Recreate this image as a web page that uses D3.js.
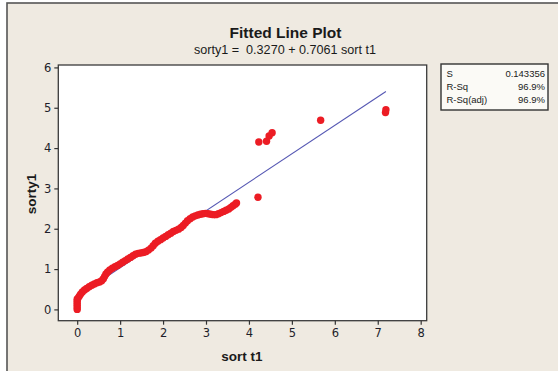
<!DOCTYPE html>
<html>
<head>
<meta charset="utf-8">
<script src="https://cdn.jsdelivr.net/npm/d3@7"></script>
<style>
  html, body { margin: 0; padding: 0; background: #ffffff; }
  svg { display: block; }
  text { white-space: pre; }
</style>
</head>
<body>
<svg id="chart" width="558" height="371"></svg>
<script>
// ---- data ----
const titleText = "Fitted Line Plot";
const subtitleText = "sorty1 =  0.3270 + 0.7061 sort t1";
const xLabel = "sort t1";
const yLabel = "sorty1";
const xTicks = [0, 1, 2, 3, 4, 5, 6, 7, 8];
const yTicks = [0, 1, 2, 3, 4, 5, 6];
const fitIntercept = 0.3270;
const fitSlope = 0.7061;
const statNames = ["S", "R-Sq", "R-Sq(adj)"];
const statValues = ["0.143356", "96.9%", "96.9%"];

const sortT1 = [
  0.00, 0.00, 0.00, 0.00, 0.00, 0.00, 0.02, 0.05, 0.08, 0.12,
  0.17, 0.22, 0.28, 0.34, 0.40, 0.46, 0.52, 0.57, 0.61, 0.64,
  0.67, 0.71, 0.76, 0.82, 0.88, 0.94, 1.00, 1.06, 1.12, 1.18,
  1.24, 1.30, 1.36, 1.42, 1.48, 1.54, 1.60, 1.66, 1.72, 1.77,
  1.82, 1.88, 1.94, 2.00, 2.06, 2.12, 2.18, 2.24, 2.30, 2.36,
  2.42, 2.47, 2.52, 2.57, 2.63, 2.69, 2.75, 2.81, 2.87, 2.93,
  2.99, 3.05, 3.11, 3.17, 3.23, 3.29, 3.35, 3.41, 3.47, 3.53,
  3.58, 3.63, 3.68, 3.71,
  4.21, 4.23, 4.41, 4.47, 4.54, 5.67, 7.18, 7.19
];
const sortY1 = [
  0.00, 0.05, 0.10, 0.15, 0.20, 0.25, 0.28, 0.33, 0.38, 0.43,
  0.48, 0.52, 0.56, 0.60, 0.63, 0.66, 0.68, 0.71, 0.76, 0.82,
  0.88, 0.93, 0.98, 1.02, 1.06, 1.09, 1.13, 1.17, 1.21, 1.25,
  1.29, 1.33, 1.37, 1.39, 1.40, 1.41, 1.43, 1.47, 1.52, 1.58,
  1.64, 1.69, 1.73, 1.77, 1.81, 1.85, 1.89, 1.93, 1.96, 1.99,
  2.03, 2.08, 2.14, 2.20, 2.25, 2.29, 2.32, 2.34, 2.36, 2.37,
  2.38, 2.37, 2.36, 2.35, 2.35, 2.37, 2.40, 2.43, 2.46, 2.49,
  2.53, 2.57, 2.61, 2.64,
  2.78, 4.15, 4.17, 4.30, 4.38, 4.69, 4.88, 4.95
];

// ---- drawing ----
const svg = d3.select("#chart");
const font = "'Liberation Sans', Arial, sans-serif";
const tickFont = "'DejaVu Sans', Verdana, sans-serif";

// outer panel
svg.append("rect")
  .attr("x", 7).attr("y", 3)
  .attr("width", 560).attr("height", 380)
  .attr("fill", "#efeae1")
  .attr("stroke", "#555555").attr("stroke-width", 1.6);

const frame = { left: 58.3, right: 426.7, top: 65, bottom: 320.7 };

const x = d3.scaleLinear().domain([-0.44, 8.14]).range([frame.left, frame.right]);
const y = d3.scaleLinear().domain([-0.28, 6.06]).range([frame.bottom, frame.top]);

// plot area
svg.append("rect")
  .attr("x", frame.left).attr("y", frame.top)
  .attr("width", frame.right - frame.left)
  .attr("height", frame.bottom - frame.top)
  .attr("fill", "#ffffff");

const plot = svg.append("g");

// fitted line (drawn beneath the dots)
const xMin = d3.min(sortT1), xMax = d3.max(sortT1);
const fitLine = [xMin, xMax].map(v => [v, fitIntercept + fitSlope * v]);
plot.append("path")
  .datum(fitLine)
  .attr("d", d3.line().x(d => x(d[0])).y(d => y(d[1])))
  .attr("fill", "none")
  .attr("stroke", "#5557b3")
  .attr("stroke-width", 1.1);

// points
plot.selectAll("circle.pt")
  .data(d3.range(sortT1.length))
  .join("circle")
  .attr("class", "pt")
  .attr("cx", i => x(sortT1[i]))
  .attr("cy", i => y(sortY1[i]))
  .attr("r", 3.7)
  .attr("fill", "#ec1c24");

// frame border
svg.append("rect")
  .attr("x", frame.left).attr("y", frame.top)
  .attr("width", frame.right - frame.left)
  .attr("height", frame.bottom - frame.top)
  .attr("fill", "none")
  .attr("stroke", "#3a3a3a").attr("stroke-width", 1.3);

// axes
const xAxis = d3.axisBottom(x).tickValues(xTicks).tickSize(4).tickPadding(4).tickFormat(d3.format("d"));
const yAxis = d3.axisLeft(y).tickValues(yTicks).tickSize(4).tickPadding(3).tickFormat(d3.format("d"));

const gx = svg.append("g").attr("transform", `translate(0,${frame.bottom})`).call(xAxis);
const gy = svg.append("g").attr("transform", `translate(${frame.left},0)`).call(yAxis);
[gx, gy].forEach(g => {
  g.select(".domain").remove();
  g.selectAll(".tick line").attr("stroke", "#333333").attr("stroke-width", 1.2);
  g.selectAll(".tick text")
    .attr("fill", "#1e1e2a")
    .style("font-family", tickFont)
    .style("font-size", "11.5px");
});

// titles
svg.append("text")
  .attr("x", 285.5).attr("y", 37.5)
  .attr("text-anchor", "middle")
  .style("font-family", font).style("font-weight", "bold").style("font-size", "15.5px")
  .attr("fill", "#1a1a1a")
  .text(titleText);

svg.append("text")
  .attr("x", 285).attr("y", 53.5)
  .attr("text-anchor", "middle")
  .style("font-family", font).style("font-size", "12.6px")
  .attr("fill", "#1a1a1a")
  .text(subtitleText);

svg.append("text")
  .attr("x", 242).attr("y", 361)
  .attr("text-anchor", "middle")
  .style("font-family", font).style("font-weight", "bold").style("font-size", "13.5px")
  .attr("fill", "#1a1a1a")
  .text(xLabel);

svg.append("text")
  .attr("transform", "translate(36,194) rotate(-90)")
  .attr("text-anchor", "middle")
  .style("font-family", font).style("font-weight", "bold").style("font-size", "13.5px")
  .attr("fill", "#1a1a1a")
  .text(yLabel);

// stats box
const box = { left: 441, right: 548, top: 64, bottom: 110 };
svg.append("rect")
  .attr("x", box.left).attr("y", box.top)
  .attr("width", box.right - box.left).attr("height", box.bottom - box.top)
  .attr("fill", "#fbfaf6")
  .attr("stroke", "#333333").attr("stroke-width", 1.4);

const rows = svg.append("g");
statNames.forEach((name, i) => {
  const by = 76.5 + i * 13.4;
  rows.append("text")
    .attr("x", box.left + 5.5).attr("y", by)
    .style("font-family", font).style("font-size", "9.5px")
    .attr("fill", "#1a1a1a")
    .text(name);
  rows.append("text")
    .attr("x", box.right - 3).attr("y", by)
    .attr("text-anchor", "end")
    .style("font-family", font).style("font-size", "9.5px")
    .attr("fill", "#1a1a1a")
    .text(statValues[i]);
});
</script>
</body>
</html>
